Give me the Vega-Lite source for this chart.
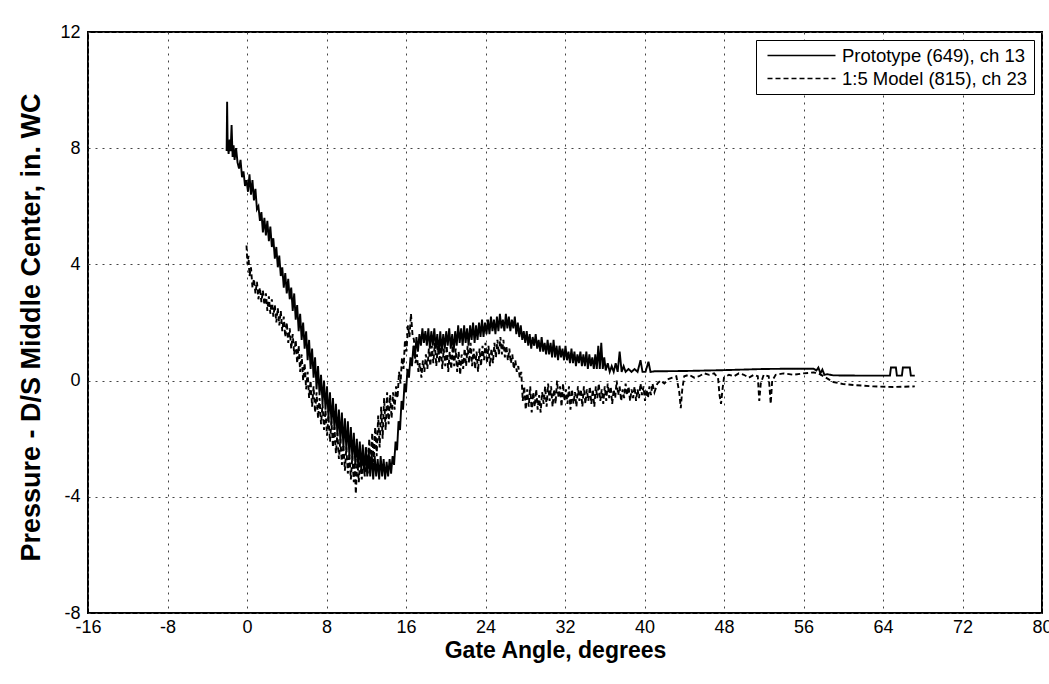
{
  "$schema": "https://vega.github.io/schema/vega-lite/v6.json",
  "autosize": "none",
  "width": 954,
  "height": 581,
  "padding": {"left": 88, "top": 32, "right": 7, "bottom": 71},
  "background": "white",
  "config": {
    "font": "Liberation Sans",
    "view": {"stroke": "black", "strokeWidth": 2},
    "axis": {"domain": false, "ticks": false, "grid": true, "gridColor": "#444", "gridDash": [2, 5], "gridWidth": 1, "labelFont": "Liberation Sans", "labelFontSize": 18, "labelColor": "black", "titleFont": "Liberation Sans", "titleColor": "black", "titleFontWeight": "bold"}
  },
  "data": {"values": [
    {"s":"P","x":-2.05,"y":7.9},{"s":"P","x":-2.0,"y":9.6},{"s":"P","x":-1.95,"y":8.2},{"s":"P","x":-1.85,"y":7.8},{"s":"P","x":-1.75,"y":8.3},{"s":"P","x":-1.65,"y":7.9},{"s":"P","x":-1.55,"y":8.8},{"s":"P","x":-1.45,"y":7.7},{"s":"P","x":-1.35,"y":8.1},{"s":"P","x":-1.25,"y":7.6},{"s":"P","x":-1.1,"y":8.0},{"s":"P","x":-0.95,"y":7.5},{"s":"P","x":-0.8,"y":7.3},{"s":"P","x":-0.65,"y":7.6},{"s":"P","x":-0.5,"y":7.0},{"s":"P","x":-0.35,"y":7.2},{"s":"P","x":-0.2,"y":6.7},{"s":"P","x":-0.05,"y":6.9},{"s":"P","x":0.1,"y":6.5},{"s":"P","x":0.25,"y":7.1},{"s":"P","x":0.4,"y":6.4},{"s":"P","x":0.55,"y":6.9},{"s":"P","x":0.7,"y":6.2},{"s":"P","x":0.85,"y":6.6},{"s":"P","x":1.0,"y":5.9},{"s":"P","x":1.15,"y":6.0},{"s":"P","x":1.3,"y":5.5},{"s":"P","x":1.45,"y":5.8},{"s":"P","x":1.6,"y":5.1},{"s":"P","x":1.75,"y":5.6},{"s":"P","x":1.9,"y":5.0},{"s":"P","x":2.05,"y":5.5},{"s":"P","x":2.2,"y":4.8},{"s":"P","x":2.35,"y":5.3},{"s":"P","x":2.5,"y":4.6},{"s":"P","x":2.65,"y":4.9},{"s":"P","x":2.8,"y":4.2},{"s":"P","x":2.95,"y":4.6},{"s":"P","x":3.1,"y":3.9},{"s":"P","x":3.25,"y":4.3},{"s":"P","x":3.4,"y":3.6},{"s":"P","x":3.55,"y":3.9},{"s":"P","x":3.7,"y":3.2},{"s":"P","x":3.85,"y":3.7},{"s":"P","x":4.0,"y":3.0},{"s":"P","x":4.15,"y":3.5},{"s":"P","x":4.3,"y":2.8},{"s":"P","x":4.45,"y":3.2},{"s":"P","x":4.6,"y":2.4},{"s":"P","x":4.75,"y":3.0},{"s":"P","x":4.9,"y":2.1},{"s":"P","x":5.05,"y":2.6},{"s":"P","x":5.2,"y":1.7},{"s":"P","x":5.35,"y":2.3},{"s":"P","x":5.5,"y":1.4},{"s":"P","x":5.65,"y":2.0},{"s":"P","x":5.8,"y":1.1},{"s":"P","x":5.95,"y":1.7},{"s":"P","x":6.1,"y":0.7},{"s":"P","x":6.25,"y":1.4},{"s":"P","x":6.4,"y":0.4},{"s":"P","x":6.55,"y":1.1},{"s":"P","x":6.7,"y":0.1},{"s":"P","x":6.85,"y":0.8},{"s":"P","x":7.0,"y":-0.3},{"s":"P","x":7.15,"y":0.5},{"s":"P","x":7.3,"y":-0.5},{"s":"P","x":7.45,"y":0.2},{"s":"P","x":7.6,"y":-0.8},{"s":"P","x":7.75,"y":0.0},{"s":"P","x":7.9,"y":-1.0},{"s":"P","x":8.05,"y":-0.2},{"s":"P","x":8.2,"y":-1.3},{"s":"P","x":8.35,"y":-0.4},{"s":"P","x":8.5,"y":-1.5},{"s":"P","x":8.65,"y":-0.6},{"s":"P","x":8.8,"y":-1.7},{"s":"P","x":8.95,"y":-0.8},{"s":"P","x":9.1,"y":-1.9},{"s":"P","x":9.25,"y":-1.0},{"s":"P","x":9.4,"y":-2.1},{"s":"P","x":9.55,"y":-1.1},{"s":"P","x":9.7,"y":-2.3},{"s":"P","x":9.85,"y":-1.3},{"s":"P","x":10.0,"y":-2.4},{"s":"P","x":10.15,"y":-1.4},{"s":"P","x":10.3,"y":-2.6},{"s":"P","x":10.45,"y":-1.6},{"s":"P","x":10.6,"y":-2.7},{"s":"P","x":10.75,"y":-1.8},{"s":"P","x":10.9,"y":-2.9},{"s":"P","x":11.05,"y":-2.0},{"s":"P","x":11.2,"y":-3.0},{"s":"P","x":11.35,"y":-2.1},{"s":"P","x":11.5,"y":-3.1},{"s":"P","x":11.65,"y":-2.2},{"s":"P","x":11.8,"y":-3.2},{"s":"P","x":11.95,"y":-2.3},{"s":"P","x":12.1,"y":-3.3},{"s":"P","x":12.25,"y":-2.4},{"s":"P","x":12.4,"y":-3.3},{"s":"P","x":12.55,"y":-2.5},{"s":"P","x":12.7,"y":-3.4},{"s":"P","x":12.85,"y":-2.6},{"s":"P","x":13.0,"y":-3.3},{"s":"P","x":13.15,"y":-2.7},{"s":"P","x":13.3,"y":-3.4},{"s":"P","x":13.45,"y":-2.6},{"s":"P","x":13.6,"y":-3.3},{"s":"P","x":13.75,"y":-2.7},{"s":"P","x":13.9,"y":-3.4},{"s":"P","x":14.05,"y":-2.8},{"s":"P","x":14.2,"y":-3.3},{"s":"P","x":14.35,"y":-2.7},{"s":"P","x":14.5,"y":-3.2},{"s":"P","x":14.65,"y":-2.6},{"s":"P","x":14.8,"y":-2.9},{"s":"P","x":14.95,"y":-2.1},{"s":"P","x":15.1,"y":-2.4},{"s":"P","x":15.25,"y":-1.4},{"s":"P","x":15.4,"y":-1.7},{"s":"P","x":15.55,"y":-0.7},{"s":"P","x":15.7,"y":-1.0},{"s":"P","x":15.85,"y":-0.1},{"s":"P","x":16.0,"y":-0.4},{"s":"P","x":16.15,"y":0.4},{"s":"P","x":16.3,"y":0.1},{"s":"P","x":16.45,"y":0.8},{"s":"P","x":16.6,"y":0.5},{"s":"P","x":16.75,"y":1.2},{"s":"P","x":16.9,"y":0.8},{"s":"P","x":17.05,"y":1.5},{"s":"P","x":17.2,"y":1.0},{"s":"P","x":17.35,"y":1.6},{"s":"P","x":17.5,"y":1.2},{"s":"P","x":17.65,"y":1.8},{"s":"P","x":17.8,"y":1.3},{"s":"P","x":17.95,"y":1.7},{"s":"P","x":18.1,"y":1.2},{"s":"P","x":18.25,"y":1.8},{"s":"P","x":18.4,"y":1.1},{"s":"P","x":18.55,"y":1.7},{"s":"P","x":18.7,"y":1.2},{"s":"P","x":18.85,"y":1.8},{"s":"P","x":19.0,"y":1.1},{"s":"P","x":19.15,"y":1.6},{"s":"P","x":19.3,"y":0.9},{"s":"P","x":19.45,"y":1.7},{"s":"P","x":19.6,"y":1.0},{"s":"P","x":19.75,"y":1.6},{"s":"P","x":19.9,"y":1.1},{"s":"P","x":20.05,"y":1.7},{"s":"P","x":20.2,"y":1.2},{"s":"P","x":20.35,"y":1.8},{"s":"P","x":20.5,"y":1.1},{"s":"P","x":20.65,"y":1.6},{"s":"P","x":20.8,"y":1.0},{"s":"P","x":20.95,"y":1.7},{"s":"P","x":21.1,"y":1.2},{"s":"P","x":21.25,"y":1.9},{"s":"P","x":21.4,"y":1.3},{"s":"P","x":21.55,"y":1.8},{"s":"P","x":21.7,"y":1.2},{"s":"P","x":21.85,"y":1.9},{"s":"P","x":22.0,"y":1.3},{"s":"P","x":22.15,"y":1.8},{"s":"P","x":22.3,"y":1.2},{"s":"P","x":22.45,"y":1.9},{"s":"P","x":22.6,"y":1.4},{"s":"P","x":22.75,"y":2.0},{"s":"P","x":22.9,"y":1.3},{"s":"P","x":23.05,"y":1.9},{"s":"P","x":23.2,"y":1.4},{"s":"P","x":23.35,"y":2.0},{"s":"P","x":23.5,"y":1.5},{"s":"P","x":23.65,"y":2.1},{"s":"P","x":23.8,"y":1.5},{"s":"P","x":23.95,"y":2.0},{"s":"P","x":24.1,"y":1.6},{"s":"P","x":24.25,"y":2.1},{"s":"P","x":24.4,"y":1.6},{"s":"P","x":24.55,"y":2.2},{"s":"P","x":24.7,"y":1.7},{"s":"P","x":24.85,"y":2.1},{"s":"P","x":25.0,"y":1.6},{"s":"P","x":25.15,"y":2.2},{"s":"P","x":25.3,"y":1.7},{"s":"P","x":25.45,"y":2.3},{"s":"P","x":25.6,"y":1.8},{"s":"P","x":25.75,"y":2.1},{"s":"P","x":25.9,"y":1.7},{"s":"P","x":26.05,"y":2.3},{"s":"P","x":26.2,"y":1.8},{"s":"P","x":26.35,"y":2.2},{"s":"P","x":26.5,"y":1.7},{"s":"P","x":26.65,"y":2.1},{"s":"P","x":26.8,"y":1.8},{"s":"P","x":26.95,"y":2.2},{"s":"P","x":27.1,"y":1.6},{"s":"P","x":27.25,"y":2.0},{"s":"P","x":27.4,"y":1.5},{"s":"P","x":27.55,"y":1.9},{"s":"P","x":27.7,"y":1.4},{"s":"P","x":27.85,"y":1.7},{"s":"P","x":28.0,"y":1.3},{"s":"P","x":28.15,"y":1.7},{"s":"P","x":28.3,"y":1.2},{"s":"P","x":28.45,"y":1.6},{"s":"P","x":28.6,"y":1.1},{"s":"P","x":28.75,"y":1.5},{"s":"P","x":28.9,"y":1.2},{"s":"P","x":29.05,"y":1.6},{"s":"P","x":29.2,"y":1.1},{"s":"P","x":29.35,"y":1.4},{"s":"P","x":29.5,"y":1.0},{"s":"P","x":29.65,"y":1.5},{"s":"P","x":29.8,"y":1.0},{"s":"P","x":29.95,"y":1.3},{"s":"P","x":30.1,"y":0.9},{"s":"P","x":30.25,"y":1.4},{"s":"P","x":30.4,"y":0.9},{"s":"P","x":30.55,"y":1.3},{"s":"P","x":30.7,"y":0.8},{"s":"P","x":30.85,"y":1.4},{"s":"P","x":31.0,"y":0.8},{"s":"P","x":31.15,"y":1.2},{"s":"P","x":31.3,"y":0.7},{"s":"P","x":31.45,"y":1.2},{"s":"P","x":31.6,"y":0.8},{"s":"P","x":31.75,"y":1.1},{"s":"P","x":31.9,"y":0.7},{"s":"P","x":32.05,"y":1.2},{"s":"P","x":32.2,"y":0.7},{"s":"P","x":32.35,"y":1.0},{"s":"P","x":32.5,"y":0.6},{"s":"P","x":32.65,"y":1.1},{"s":"P","x":32.8,"y":0.6},{"s":"P","x":32.95,"y":1.0},{"s":"P","x":33.1,"y":0.5},{"s":"P","x":33.25,"y":0.9},{"s":"P","x":33.4,"y":0.6},{"s":"P","x":33.55,"y":1.0},{"s":"P","x":33.7,"y":0.5},{"s":"P","x":33.85,"y":0.9},{"s":"P","x":34.0,"y":0.5},{"s":"P","x":34.15,"y":1.0},{"s":"P","x":34.3,"y":0.4},{"s":"P","x":34.45,"y":0.9},{"s":"P","x":34.6,"y":0.5},{"s":"P","x":34.75,"y":0.8},{"s":"P","x":34.9,"y":0.4},{"s":"P","x":35.05,"y":0.9},{"s":"P","x":35.2,"y":0.4},{"s":"P","x":35.35,"y":1.2},{"s":"P","x":35.5,"y":0.4},{"s":"P","x":35.65,"y":1.3},{"s":"P","x":35.8,"y":0.4},{"s":"P","x":35.95,"y":0.8},{"s":"P","x":36.1,"y":0.35},{"s":"P","x":36.3,"y":0.6},{"s":"P","x":36.5,"y":0.3},{"s":"P","x":36.7,"y":0.5},{"s":"P","x":36.9,"y":0.3},{"s":"P","x":37.1,"y":0.6},{"s":"P","x":37.3,"y":0.3},{"s":"P","x":37.5,"y":1.0},{"s":"P","x":37.7,"y":0.3},{"s":"P","x":37.9,"y":0.5},{"s":"P","x":38.1,"y":0.3},{"s":"P","x":38.4,"y":0.4},{"s":"P","x":38.7,"y":0.3},{"s":"P","x":39.0,"y":0.4},{"s":"P","x":39.3,"y":0.3},{"s":"P","x":39.6,"y":0.7},{"s":"P","x":39.8,"y":0.3},{"s":"P","x":40.1,"y":0.3},{"s":"P","x":40.4,"y":0.65},{"s":"P","x":40.6,"y":0.3},{"s":"P","x":41.0,"y":0.32},{"s":"P","x":44.0,"y":0.33},{"s":"P","x":48.0,"y":0.36},{"s":"P","x":52.0,"y":0.4},{"s":"P","x":55.0,"y":0.41},{"s":"P","x":57.0,"y":0.41},{"s":"P","x":57.3,"y":0.35},{"s":"P","x":57.5,"y":0.45},{"s":"P","x":57.7,"y":0.25},{"s":"P","x":57.9,"y":0.38},{"s":"P","x":58.1,"y":0.2},{"s":"P","x":58.4,"y":0.22},{"s":"P","x":59.0,"y":0.18},{"s":"P","x":62.0,"y":0.17},{"s":"P","x":64.7,"y":0.17},{"s":"P","x":64.8,"y":0.45},{"s":"P","x":65.3,"y":0.45},{"s":"P","x":65.4,"y":0.17},{"s":"P","x":65.9,"y":0.17},{"s":"P","x":66.0,"y":0.45},{"s":"P","x":66.7,"y":0.45},{"s":"P","x":66.8,"y":0.17},{"s":"P","x":67.2,"y":0.17},
    {"s":"M","x":-0.05,"y":4.65},{"s":"M","x":0.05,"y":4.0},{"s":"M","x":0.15,"y":4.3},{"s":"M","x":0.25,"y":3.6},{"s":"M","x":0.4,"y":3.9},{"s":"M","x":0.55,"y":3.2},{"s":"M","x":0.7,"y":3.5},{"s":"M","x":0.85,"y":3.0},{"s":"M","x":1.0,"y":3.4},{"s":"M","x":1.15,"y":2.8},{"s":"M","x":1.3,"y":3.2},{"s":"M","x":1.45,"y":2.7},{"s":"M","x":1.6,"y":3.1},{"s":"M","x":1.75,"y":2.6},{"s":"M","x":1.9,"y":3.0},{"s":"M","x":2.05,"y":2.4},{"s":"M","x":2.2,"y":2.9},{"s":"M","x":2.35,"y":2.3},{"s":"M","x":2.5,"y":2.8},{"s":"M","x":2.65,"y":2.2},{"s":"M","x":2.8,"y":2.6},{"s":"M","x":2.95,"y":2.0},{"s":"M","x":3.1,"y":2.5},{"s":"M","x":3.25,"y":1.9},{"s":"M","x":3.4,"y":2.4},{"s":"M","x":3.55,"y":1.7},{"s":"M","x":3.7,"y":2.2},{"s":"M","x":3.85,"y":1.5},{"s":"M","x":4.0,"y":2.0},{"s":"M","x":4.15,"y":1.3},{"s":"M","x":4.3,"y":1.8},{"s":"M","x":4.45,"y":1.1},{"s":"M","x":4.6,"y":1.6},{"s":"M","x":4.75,"y":0.9},{"s":"M","x":4.9,"y":1.4},{"s":"M","x":5.05,"y":0.6},{"s":"M","x":5.2,"y":1.2},{"s":"M","x":5.35,"y":0.3},{"s":"M","x":5.5,"y":0.9},{"s":"M","x":5.65,"y":0.0},{"s":"M","x":5.8,"y":0.6},{"s":"M","x":5.95,"y":-0.3},{"s":"M","x":6.1,"y":0.3},{"s":"M","x":6.25,"y":-0.6},{"s":"M","x":6.4,"y":0.0},{"s":"M","x":6.55,"y":-0.9},{"s":"M","x":6.7,"y":-0.2},{"s":"M","x":6.85,"y":-1.1},{"s":"M","x":7.0,"y":-0.4},{"s":"M","x":7.15,"y":-1.3},{"s":"M","x":7.3,"y":-0.6},{"s":"M","x":7.45,"y":-1.5},{"s":"M","x":7.6,"y":-0.8},{"s":"M","x":7.75,"y":-1.7},{"s":"M","x":7.9,"y":-1.0},{"s":"M","x":8.05,"y":-1.9},{"s":"M","x":8.2,"y":-1.2},{"s":"M","x":8.35,"y":-2.1},{"s":"M","x":8.5,"y":-1.4},{"s":"M","x":8.65,"y":-2.3},{"s":"M","x":8.8,"y":-1.6},{"s":"M","x":8.95,"y":-2.5},{"s":"M","x":9.1,"y":-1.8},{"s":"M","x":9.25,"y":-2.7},{"s":"M","x":9.4,"y":-2.0},{"s":"M","x":9.55,"y":-2.9},{"s":"M","x":9.7,"y":-2.2},{"s":"M","x":9.85,"y":-3.1},{"s":"M","x":10.0,"y":-2.3},{"s":"M","x":10.15,"y":-3.2},{"s":"M","x":10.3,"y":-2.5},{"s":"M","x":10.45,"y":-3.4},{"s":"M","x":10.6,"y":-2.6},{"s":"M","x":10.75,"y":-3.5},{"s":"M","x":10.85,"y":-2.8},{"s":"M","x":10.95,"y":-3.9},{"s":"M","x":11.1,"y":-2.7},{"s":"M","x":11.25,"y":-3.5},{"s":"M","x":11.4,"y":-2.6},{"s":"M","x":11.55,"y":-3.4},{"s":"M","x":11.7,"y":-2.5},{"s":"M","x":11.85,"y":-3.3},{"s":"M","x":12.0,"y":-2.3},{"s":"M","x":12.15,"y":-3.2},{"s":"M","x":12.3,"y":-2.0},{"s":"M","x":12.45,"y":-3.0},{"s":"M","x":12.6,"y":-1.8},{"s":"M","x":12.75,"y":-2.8},{"s":"M","x":12.9,"y":-1.6},{"s":"M","x":13.05,"y":-2.6},{"s":"M","x":13.2,"y":-1.2},{"s":"M","x":13.35,"y":-2.3},{"s":"M","x":13.5,"y":-0.9},{"s":"M","x":13.65,"y":-2.0},{"s":"M","x":13.8,"y":-0.6},{"s":"M","x":13.95,"y":-1.7},{"s":"M","x":14.1,"y":-0.4},{"s":"M","x":14.25,"y":-1.5},{"s":"M","x":14.4,"y":-0.5},{"s":"M","x":14.55,"y":-1.3},{"s":"M","x":14.7,"y":-0.4},{"s":"M","x":14.85,"y":-1.0},{"s":"M","x":15.0,"y":-0.2},{"s":"M","x":15.15,"y":-0.6},{"s":"M","x":15.3,"y":0.3},{"s":"M","x":15.45,"y":-0.1},{"s":"M","x":15.6,"y":0.8},{"s":"M","x":15.75,"y":0.4},{"s":"M","x":15.9,"y":1.4},{"s":"M","x":16.05,"y":1.0},{"s":"M","x":16.2,"y":1.9},{"s":"M","x":16.35,"y":1.5},{"s":"M","x":16.5,"y":2.3},{"s":"M","x":16.65,"y":1.6},{"s":"M","x":16.8,"y":1.4},{"s":"M","x":16.95,"y":0.6},{"s":"M","x":17.1,"y":0.9},{"s":"M","x":17.25,"y":0.3},{"s":"M","x":17.4,"y":0.6},{"s":"M","x":17.55,"y":0.1},{"s":"M","x":17.7,"y":0.7},{"s":"M","x":17.85,"y":0.3},{"s":"M","x":18.0,"y":0.9},{"s":"M","x":18.15,"y":0.4},{"s":"M","x":18.3,"y":1.1},{"s":"M","x":18.45,"y":0.5},{"s":"M","x":18.6,"y":1.2},{"s":"M","x":18.75,"y":0.6},{"s":"M","x":18.9,"y":1.3},{"s":"M","x":19.05,"y":0.5},{"s":"M","x":19.2,"y":1.2},{"s":"M","x":19.35,"y":0.6},{"s":"M","x":19.5,"y":1.3},{"s":"M","x":19.65,"y":0.4},{"s":"M","x":19.8,"y":1.1},{"s":"M","x":19.95,"y":0.5},{"s":"M","x":20.1,"y":1.2},{"s":"M","x":20.25,"y":0.3},{"s":"M","x":20.4,"y":1.0},{"s":"M","x":20.55,"y":0.4},{"s":"M","x":20.7,"y":1.2},{"s":"M","x":20.85,"y":0.5},{"s":"M","x":21.0,"y":1.1},{"s":"M","x":21.15,"y":0.3},{"s":"M","x":21.3,"y":1.0},{"s":"M","x":21.45,"y":0.2},{"s":"M","x":21.6,"y":0.9},{"s":"M","x":21.75,"y":0.4},{"s":"M","x":21.9,"y":1.1},{"s":"M","x":22.05,"y":0.5},{"s":"M","x":22.2,"y":1.2},{"s":"M","x":22.35,"y":0.6},{"s":"M","x":22.5,"y":1.3},{"s":"M","x":22.65,"y":0.5},{"s":"M","x":22.8,"y":1.1},{"s":"M","x":22.95,"y":0.4},{"s":"M","x":23.1,"y":1.0},{"s":"M","x":23.25,"y":0.3},{"s":"M","x":23.4,"y":1.1},{"s":"M","x":23.55,"y":0.5},{"s":"M","x":23.7,"y":1.2},{"s":"M","x":23.85,"y":0.7},{"s":"M","x":24.0,"y":1.3},{"s":"M","x":24.15,"y":0.6},{"s":"M","x":24.3,"y":1.2},{"s":"M","x":24.45,"y":0.5},{"s":"M","x":24.6,"y":1.1},{"s":"M","x":24.75,"y":0.6},{"s":"M","x":24.9,"y":1.3},{"s":"M","x":25.05,"y":0.8},{"s":"M","x":25.2,"y":1.4},{"s":"M","x":25.35,"y":0.9},{"s":"M","x":25.5,"y":1.5},{"s":"M","x":25.65,"y":0.9},{"s":"M","x":25.8,"y":1.4},{"s":"M","x":25.95,"y":0.8},{"s":"M","x":26.1,"y":1.2},{"s":"M","x":26.25,"y":0.7},{"s":"M","x":26.4,"y":1.1},{"s":"M","x":26.55,"y":0.6},{"s":"M","x":26.7,"y":0.9},{"s":"M","x":26.85,"y":0.4},{"s":"M","x":27.0,"y":0.7},{"s":"M","x":27.15,"y":0.3},{"s":"M","x":27.3,"y":0.5},{"s":"M","x":27.45,"y":0.1},{"s":"M","x":27.6,"y":0.3},{"s":"M","x":27.75,"y":-0.7},{"s":"M","x":27.9,"y":-0.2},{"s":"M","x":28.05,"y":-1.0},{"s":"M","x":28.2,"y":-0.3},{"s":"M","x":28.35,"y":-0.9},{"s":"M","x":28.5,"y":-0.2},{"s":"M","x":28.65,"y":-1.1},{"s":"M","x":28.8,"y":-0.4},{"s":"M","x":28.95,"y":-0.9},{"s":"M","x":29.1,"y":-0.3},{"s":"M","x":29.25,"y":-1.0},{"s":"M","x":29.4,"y":-0.5},{"s":"M","x":29.55,"y":-1.1},{"s":"M","x":29.7,"y":-0.4},{"s":"M","x":29.85,"y":-0.8},{"s":"M","x":30.0,"y":-0.2},{"s":"M","x":30.15,"y":-0.9},{"s":"M","x":30.3,"y":-0.1},{"s":"M","x":30.45,"y":-0.7},{"s":"M","x":30.6,"y":-0.2},{"s":"M","x":30.75,"y":-0.9},{"s":"M","x":30.9,"y":-0.3},{"s":"M","x":31.05,"y":-0.8},{"s":"M","x":31.2,"y":0.0},{"s":"M","x":31.35,"y":-0.6},{"s":"M","x":31.5,"y":-0.2},{"s":"M","x":31.65,"y":-0.9},{"s":"M","x":31.8,"y":-0.1},{"s":"M","x":31.95,"y":-0.7},{"s":"M","x":32.1,"y":-0.3},{"s":"M","x":32.25,"y":-0.8},{"s":"M","x":32.4,"y":-0.2},{"s":"M","x":32.55,"y":-1.0},{"s":"M","x":32.7,"y":-0.3},{"s":"M","x":32.85,"y":-0.8},{"s":"M","x":33.0,"y":-0.4},{"s":"M","x":33.15,"y":-0.9},{"s":"M","x":33.3,"y":-0.2},{"s":"M","x":33.45,"y":-0.7},{"s":"M","x":33.6,"y":-0.3},{"s":"M","x":33.75,"y":-0.9},{"s":"M","x":33.9,"y":-0.2},{"s":"M","x":34.05,"y":-0.8},{"s":"M","x":34.2,"y":-0.3},{"s":"M","x":34.35,"y":-0.7},{"s":"M","x":34.5,"y":-0.2},{"s":"M","x":34.65,"y":-0.8},{"s":"M","x":34.8,"y":-0.3},{"s":"M","x":34.95,"y":-0.9},{"s":"M","x":35.1,"y":-0.2},{"s":"M","x":35.25,"y":-0.6},{"s":"M","x":35.4,"y":-0.1},{"s":"M","x":35.55,"y":-0.7},{"s":"M","x":35.7,"y":-0.3},{"s":"M","x":35.85,"y":-0.8},{"s":"M","x":36.0,"y":-0.2},{"s":"M","x":36.15,"y":-0.7},{"s":"M","x":36.3,"y":-0.1},{"s":"M","x":36.45,"y":-0.6},{"s":"M","x":36.6,"y":-0.2},{"s":"M","x":36.75,"y":-0.8},{"s":"M","x":36.9,"y":-0.3},{"s":"M","x":37.05,"y":-0.6},{"s":"M","x":37.2,"y":0.0},{"s":"M","x":37.35,"y":-0.5},{"s":"M","x":37.5,"y":-0.2},{"s":"M","x":37.65,"y":-0.7},{"s":"M","x":37.8,"y":-0.3},{"s":"M","x":37.95,"y":-0.6},{"s":"M","x":38.1,"y":-0.1},{"s":"M","x":38.25,"y":-0.5},{"s":"M","x":38.4,"y":-0.2},{"s":"M","x":38.55,"y":-0.7},{"s":"M","x":38.7,"y":-0.3},{"s":"M","x":38.85,"y":-0.6},{"s":"M","x":39.0,"y":-0.2},{"s":"M","x":39.15,"y":-0.7},{"s":"M","x":39.3,"y":-0.3},{"s":"M","x":39.45,"y":-0.6},{"s":"M","x":39.6,"y":-0.1},{"s":"M","x":39.75,"y":-0.5},{"s":"M","x":39.9,"y":-0.2},{"s":"M","x":40.05,"y":-0.7},{"s":"M","x":40.2,"y":-0.3},{"s":"M","x":40.35,"y":-0.6},{"s":"M","x":40.5,"y":-0.2},{"s":"M","x":40.65,"y":-0.5},{"s":"M","x":40.8,"y":-0.1},{"s":"M","x":41.0,"y":-0.4},{"s":"M","x":41.3,"y":-0.1},{"s":"M","x":41.6,"y":0.0},{"s":"M","x":42.0,"y":-0.1},{"s":"M","x":42.4,"y":0.05},{"s":"M","x":42.8,"y":0.1},{"s":"M","x":43.2,"y":0.15},{"s":"M","x":43.5,"y":-0.4},{"s":"M","x":43.65,"y":-0.95},{"s":"M","x":43.8,"y":-0.3},{"s":"M","x":44.0,"y":0.15},{"s":"M","x":44.5,"y":0.2},{"s":"M","x":45.0,"y":0.1},{"s":"M","x":45.5,"y":0.15},{"s":"M","x":46.0,"y":0.25},{"s":"M","x":46.5,"y":0.2},{"s":"M","x":47.0,"y":0.25},{"s":"M","x":47.4,"y":0.1},{"s":"M","x":47.55,"y":-0.5},{"s":"M","x":47.7,"y":-0.8},{"s":"M","x":47.85,"y":-0.3},{"s":"M","x":48.0,"y":0.1},{"s":"M","x":48.5,"y":0.2},{"s":"M","x":49.0,"y":0.15},{"s":"M","x":49.5,"y":0.25},{"s":"M","x":50.0,"y":0.2},{"s":"M","x":50.5,"y":0.1},{"s":"M","x":51.0,"y":0.2},{"s":"M","x":51.4,"y":0.15},{"s":"M","x":51.55,"y":-0.7},{"s":"M","x":51.7,"y":-0.1},{"s":"M","x":52.0,"y":0.2},{"s":"M","x":52.5,"y":0.15},{"s":"M","x":52.7,"y":-0.8},{"s":"M","x":52.85,"y":0.0},{"s":"M","x":53.2,"y":0.2},{"s":"M","x":54.0,"y":0.25},{"s":"M","x":55.0,"y":0.2},{"s":"M","x":56.0,"y":0.25},{"s":"M","x":57.0,"y":0.28},{"s":"M","x":57.5,"y":0.25},{"s":"M","x":58.0,"y":0.15},{"s":"M","x":58.5,"y":0.05},{"s":"M","x":59.0,"y":-0.05},{"s":"M","x":60.0,"y":-0.12},{"s":"M","x":61.0,"y":-0.15},{"s":"M","x":63.0,"y":-0.2},{"s":"M","x":65.0,"y":-0.22},{"s":"M","x":67.2,"y":-0.2}
  ]},
  "mark": {"type": "line", "color": "black", "strokeWidth": 1.9, "clip": true},
  "encoding": {
    "x": {"field": "x", "type": "quantitative", "scale": {"domain": [-16, 80], "nice": false, "zero": false},
      "axis": {"values": [-16, -8, 0, 8, 16, 24, 32, 40, 48, 56, 64, 72, 80], "labelExpr": "'' + datum.value", "title": "Gate Angle, degrees", "titleFontSize": 23, "titleX": 467, "labelPadding": 5, "titlePadding": 3, "labelFlush": false}},
    "y": {"field": "y", "type": "quantitative", "scale": {"domain": [-8, 12], "nice": false, "zero": false},
      "axis": {"values": [-8, -4, 0, 4, 8, 12], "labelExpr": "'' + datum.value", "title": "Pressure - D/S Middle Center, in. WC", "titleFontSize": 27, "titleY": 295, "labelPadding": 8, "titlePadding": 14}},
    "strokeDash": {"field": "s", "type": "nominal", "scale": {"domain": ["P", "M"], "range": [[1, 0], [5, 3]]},
      "legend": {"title": null, "orient": "top-right", "offset": 8, "strokeColor": "black", "fillColor": "white", "padding": 6, "labelFontSize": 18.5, "labelColor": "black", "labelFont": "Liberation Sans", "labelLimit": 400, "symbolType": "M-4,0H4", "symbolSize": 289, "symbolOffset": 30, "labelOffset": 31, "rowPadding": 4, "symbolStrokeWidth": 1.4, "symbolStrokeColor": "black", "labelExpr": "datum.value == 'P' ? 'Prototype (649), ch 13' : '1:5 Model (815), ch 23'"}},
    "order": {"field": "x", "type": "quantitative"}
  }
}
